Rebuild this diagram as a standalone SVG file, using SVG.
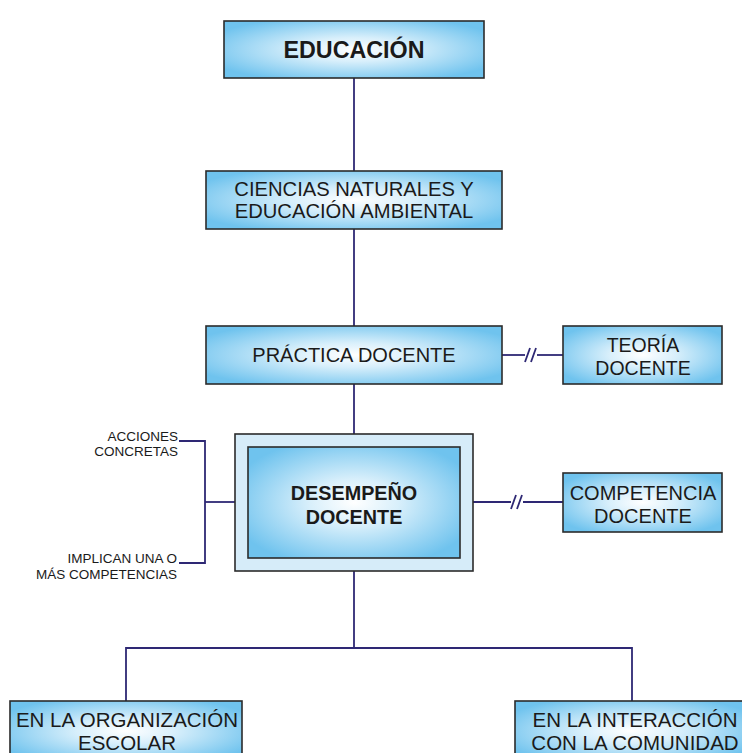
<svg xmlns="http://www.w3.org/2000/svg" width="742" height="753" viewBox="0 0 742 753">
  <defs>
    <radialGradient id="boxFill" cx="0.5" cy="0.5" r="0.6">
      <stop offset="0" stop-color="#ffffff"/>
      <stop offset="0.35" stop-color="#d8effb"/>
      <stop offset="1" stop-color="#6fc3ee"/>
    </radialGradient>
    <style>
      .box { fill: url(#boxFill); stroke: #2b2b2b; stroke-width: 1.6; }
      .frame { fill: #d6ecf9; stroke: #2b2b2b; stroke-width: 1.6; }
      .line { fill: none; stroke: #2e2874; stroke-width: 1.8; }
      .t { font-family: "Liberation Sans", Arial, sans-serif; fill: #1a1a1a; text-anchor: middle; }
      .lbl { font-family: "Liberation Sans", Arial, sans-serif; fill: #1a1a1a; text-anchor: end; font-size: 13.5px; }
    </style>
  </defs>
  <rect width="742" height="753" fill="#ffffff"/>

  <g id="connectors">
    <line class="line" x1="354" y1="78" x2="354" y2="171"/>
    <line class="line" x1="354" y1="229" x2="354" y2="326"/>
    <line class="line" x1="354" y1="384" x2="354" y2="434"/>
    <line class="line" x1="354" y1="571" x2="354" y2="648"/>
    <polyline class="line" points="126,701 126,648 632,648 632,701"/>
    <!-- practice / theory link with break marks -->
    <line class="line" x1="502" y1="355" x2="525" y2="355"/>
    <line class="line" x1="537" y1="355" x2="563" y2="355"/>
    <line class="line" x1="525" y1="362" x2="530" y2="348"/>
    <line class="line" x1="531" y1="362" x2="536" y2="348"/>
    <!-- performance / competence link with break marks -->
    <line class="line" x1="473" y1="502" x2="511" y2="502"/>
    <line class="line" x1="523" y1="502" x2="563" y2="502"/>
    <line class="line" x1="511" y1="509" x2="516" y2="495"/>
    <line class="line" x1="517" y1="509" x2="522" y2="495"/>
    <!-- side bracket -->
    <polyline class="line" points="179,441 205,441 205,563 179,563"/>
    <line class="line" x1="205" y1="502" x2="235" y2="502"/>
  </g>

  <g id="educacion">
    <rect class="box" x="224" y="21" width="260" height="57"/>
    <text class="t" x="354" y="58" font-size="23.3" font-weight="bold">EDUCACIÓN</text>
  </g>

  <g id="ciencias">
    <rect class="box" x="206" y="171" width="296" height="58"/>
    <text class="t" x="354" y="196" font-size="20.2">CIENCIAS NATURALES Y</text>
    <text class="t" x="354" y="218" font-size="20.2">EDUCACIÓN AMBIENTAL</text>
  </g>

  <g id="practica">
    <rect class="box" x="206" y="326" width="296" height="58"/>
    <text class="t" x="354" y="362" font-size="20">PRÁCTICA DOCENTE</text>
  </g>

  <g id="teoria">
    <rect class="box" x="563" y="326" width="159" height="58"/>
    <text class="t" x="643" y="352" font-size="19.5">TEORÍA</text>
    <text class="t" x="643" y="375" font-size="19.5">DOCENTE</text>
  </g>

  <g id="desempeno">
    <rect class="frame" x="235" y="434" width="238" height="137"/>
    <rect class="box" x="248" y="447" width="212" height="111"/>
    <text class="t" x="354" y="500" font-size="19.8" font-weight="bold">DESEMPEÑO</text>
    <text class="t" x="354" y="524" font-size="19.8" font-weight="bold">DOCENTE</text>
  </g>

  <g id="competencia">
    <rect class="box" x="563" y="473" width="159" height="59"/>
    <text class="t" x="643" y="500" font-size="20">COMPETENCIA</text>
    <text class="t" x="643" y="523" font-size="20">DOCENTE</text>
  </g>

  <g id="acciones">
    <text class="lbl" x="178" y="441">ACCIONES</text>
    <text class="lbl" x="178" y="456">CONCRETAS</text>
  </g>

  <g id="implican">
    <text class="lbl" x="177" y="563">IMPLICAN UNA O</text>
    <text class="lbl" x="177" y="579">MÁS COMPETENCIAS</text>
  </g>

  <g id="organizacion">
    <rect class="box" x="10" y="701" width="232" height="60"/>
    <text class="t" x="127" y="727" font-size="20.5">EN LA ORGANIZACIÓN</text>
    <text class="t" x="127" y="750" font-size="20.5">ESCOLAR</text>
  </g>

  <g id="interaccion">
    <rect class="box" x="515" y="701" width="232" height="60"/>
    <text class="t" x="635" y="727" font-size="20.5">EN LA INTERACCIÓN</text>
    <text class="t" x="635" y="750" font-size="20.5">CON LA COMUNIDAD</text>
  </g>
</svg>
